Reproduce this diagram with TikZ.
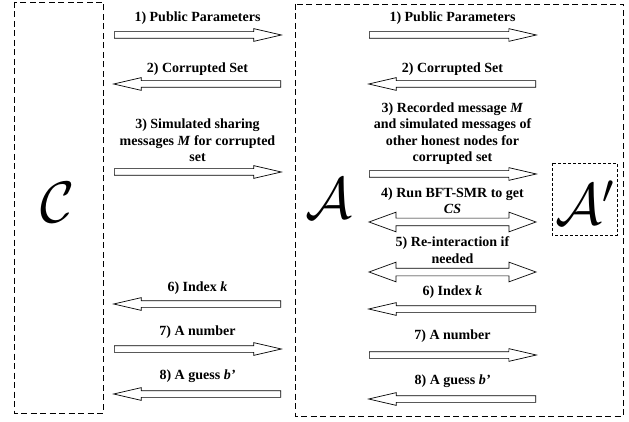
\documentclass[tikz,border=0pt]{standalone}
\usepackage{fontspec}
\setmainfont{Liberation Serif}
\usetikzlibrary{shapes.arrows}
\newcommand{\bigactor}[1]{\scalebox{2.35}{$#1$}}
\begin{document}
\begin{tikzpicture}[x=1pt,y=-1pt,
  party/.style={draw, line width=0.7pt, dash pattern=on 6pt off 3.5pt},
  subparty/.style={draw, line width=0.6pt, dash pattern=on 3pt off 2pt},
  actor/.style={inner sep=0pt, font=\fontsize{24}{28}\selectfont},
  lbl/.style={inner sep=0pt, align=center, font=\fontsize{14}{16.4}\selectfont\bfseries},
  sarrow/.style={single arrow, draw, line width=0.7pt, minimum height=167pt,
    inner xsep=0pt, inner ysep=3pt, minimum width=0pt,
    single arrow head extend=3pt, single arrow tip angle=26, anchor=tail},
  larrow/.style={sarrow, shape border rotate=180},
  darrow/.style={double arrow, draw, line width=0.7pt, minimum height=167pt,
    inner xsep=0pt, inner ysep=3.5pt, minimum width=0pt,
    double arrow head extend=6pt, double arrow tip angle=40},
]
\useasboundingbox (0,0) rectangle (629,422);

% parties
\draw[party] (14,2) rectangle (103,413);
\draw[party] (295,4) rectangle (623,416);
\draw[subparty] (552,163) rectangle (617,235);
\node[actor] (C) at (58,203) {\bigactor{\mathcal{C}}};
\node[actor] (A) at (329,199) {\bigactor{\mathcal{A}}};
\node[actor] (Ap) at (585,203) {\bigactor{\mathcal{A}'}};

% messages between C and A (tails at x=114 or x=281)
\node[lbl] (l1) at (197.5,18) {1) Public Parameters};
\node[sarrow] (ml1) at (114,35) {};
\node[lbl] (l2) at (197.5,69) {2) Corrupted Set};
\node[larrow] (ml2) at (281,84) {};
\node[lbl] (l3) at (197.5,140.5) {3) Simulated sharing\\messages \textit{M} for corrupted\\set};
\node[sarrow] (ml3) at (114,172) {};
\node[lbl] (l6) at (197.5,288) {6) Index \textit{k}};
\node[larrow] (ml6) at (281,304) {};
\node[lbl] (l7) at (197.5,332) {7) A number};
\node[sarrow] (ml7) at (114,349) {};
\node[lbl] (l8) at (197.5,376) {8) A guess \textit{b’}};
\node[larrow] (ml8) at (281,394) {};

% messages between A and A' (tails at x=369 or x=536)
\node[lbl] (r1) at (452.5,18) {1) Public Parameters};
\node[sarrow] (mr1) at (369,35) {};
\node[lbl] (r2) at (452.5,69) {2) Corrupted Set};
\node[larrow] (mr2) at (536,84) {};
\node[lbl] (r3) at (452.5,133.5) {3) Recorded message \textit{M}\\and simulated messages of\\other honest nodes for\\corrupted set};
\node[sarrow] (mr3) at (369,174) {};
\node[lbl] (r4) at (452.5,201) {4) Run BFT-SMR to get\\\textit{CS}};
\node[darrow] (mr4) at (452.5,222) {};
\node[lbl] (r5) at (452.5,250) {5) Re-interaction if\\needed};
\node[darrow] (mr5) at (452.5,272) {};
\node[lbl] (r6) at (452.5,292) {6) Index \textit{k}};
\node[larrow] (mr6) at (536,309) {};
\node[lbl] (r7) at (452.5,336) {7) A number};
\node[sarrow] (mr7) at (369,355) {};
\node[lbl] (r8) at (452.5,381) {8) A guess \textit{b’}};
\node[larrow] (mr8) at (536,399) {};
\end{tikzpicture}
\end{document}
